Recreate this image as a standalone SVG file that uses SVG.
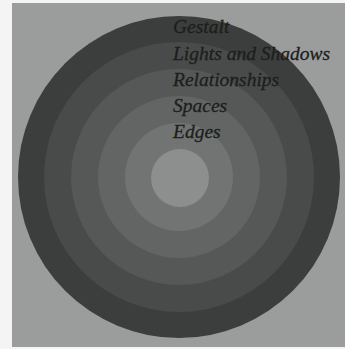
<svg xmlns="http://www.w3.org/2000/svg" width="345" height="349" viewBox="0 0 345 349">
<style>
.lbl{font-family:"Liberation Serif","DejaVu Serif",serif;font-style:italic;font-size:19.5px;fill:#1c1e1d;stroke:#1c1e1d;stroke-width:0.3}
</style>
<rect x="0" y="0" width="345" height="349" fill="#f4f4f4"/>
<rect x="12" y="3" width="333" height="344" fill="#9b9d9c"/>
<g id="rings">
<circle id="ring-gestalt" cx="179" cy="177" r="161" fill="#3b3e3c"/>
<circle id="ring-lights" cx="179" cy="177" r="135" fill="#484b49"/>
<circle id="ring-relationships" cx="179" cy="177" r="108" fill="#555856"/>
<circle id="ring-spaces" cx="179" cy="177" r="81" fill="#626563"/>
<circle id="ring-edges" cx="179" cy="177" r="54" fill="#717472"/>
<circle id="core" cx="180" cy="178" r="29" fill="#8c8f8d"/>
</g>
<g id="labels">
<text class="lbl" x="173" y="33">Gestalt</text>
<text class="lbl" x="173" y="60">Lights and Shadows</text>
<text class="lbl" x="173" y="86">Relationships</text>
<text class="lbl" x="173" y="112">Spaces</text>
<text class="lbl" x="173" y="138">Edges</text>
</g>
</svg>
